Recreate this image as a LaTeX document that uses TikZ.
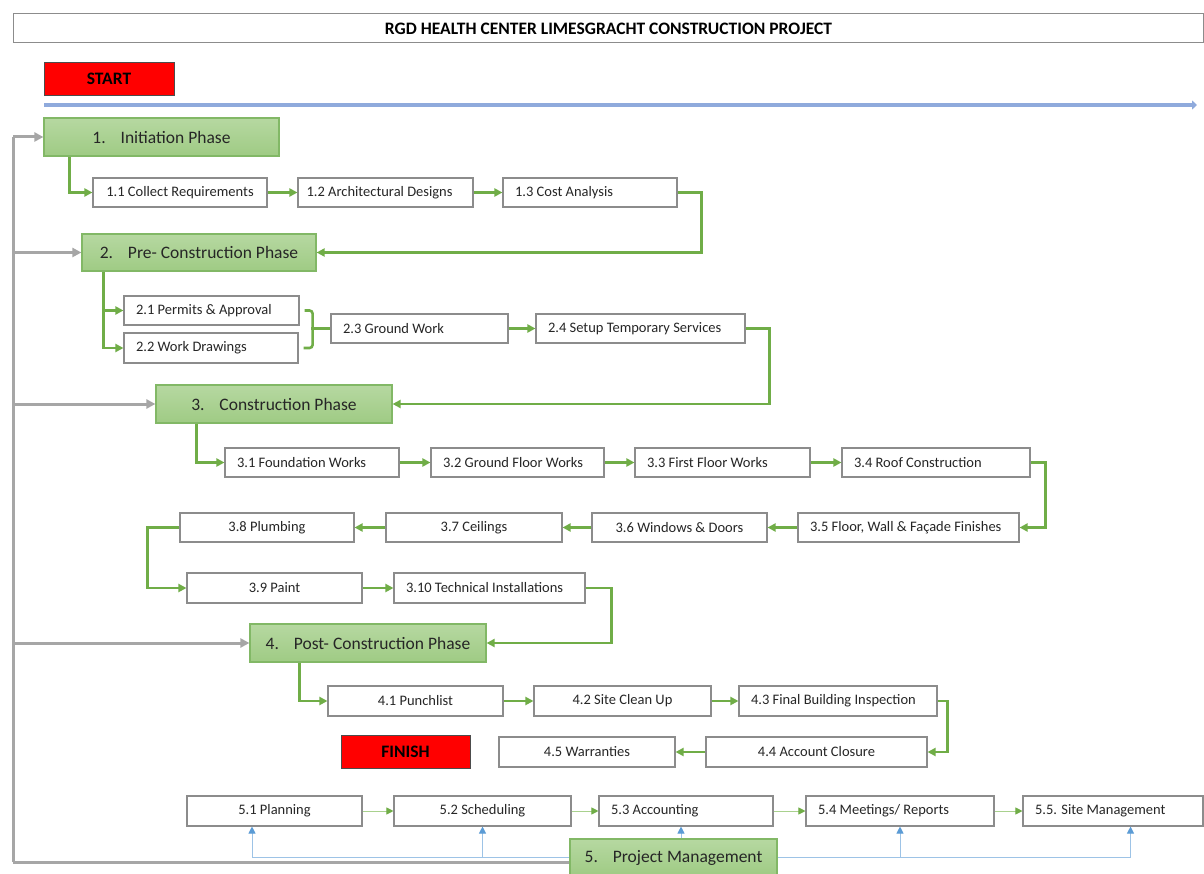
\documentclass[tikz,border=0pt]{standalone}
\usepackage{fontspec}
\setmainfont{Carlito}
\usetikzlibrary{arrows.meta}

\definecolor{flowgreen}{HTML}{70AD47}
\definecolor{lightgreen}{HTML}{A9D18E}
\definecolor{phtop}{HTML}{B6D8A1}
\definecolor{phbot}{HTML}{9FCB84}
\definecolor{phedge}{HTML}{82B866}
\definecolor{boxgray}{HTML}{8C8C8C}
\definecolor{busgray}{HTML}{A6A6A6}
\definecolor{timeblue}{HTML}{8FAADC}
\definecolor{pmline}{HTML}{9DC3E6}
\definecolor{pmtip}{HTML}{5B9BD5}
\definecolor{inktext}{HTML}{262626}
\definecolor{alarmred}{HTML}{FF0000}

\tikzset{
  box/.style={draw=boxgray, line width=1.1pt, fill=white, minimum height=29pt,
    inner sep=0pt, text=inktext, font=\fontsize{14.5}{17}\selectfont},
  cbox/.style={box, minimum width=#1},
  lbox/.style={box, inner xsep=12pt, text width=#1, align=flush left},
  phase/.style={draw=phedge, line width=1.2pt, top color=phtop, bottom color=phbot,
    minimum height=38pt, minimum width=#1, inner sep=0pt, text=inktext,
    font=\fontsize{17.5}{20}\selectfont},
  marker/.style={draw=black!70, line width=0.8pt, fill=alarmred, minimum height=33pt,
    minimum width=#1, inner sep=0pt, font=\bfseries\fontsize{17.5}{20}\selectfont},
  flow/.style={draw=flowgreen, line width=2.6pt,
    -{Triangle[length=8pt,width=8pt]}},
  brace/.style={draw=flowgreen, line width=2.6pt, rounded corners=3pt},
  thinflow/.style={draw=lightgreen, line width=1pt,
    -{Triangle[length=7pt,width=7pt,color=flowgreen]}},
  bus/.style={draw=busgray, line width=3pt},
  busarrow/.style={bus, -{Triangle[length=9pt,width=9pt]}},
  pm/.style={draw=pmline, line width=1pt,
    -{Triangle[length=7pt,width=7pt,color=pmtip]}},
  timeline/.style={draw=timeblue, line width=4pt,
    -{Triangle[length=5pt,width=9pt]}}
}

\newcommand{\phasetitle}[2]{#1\hspace{0.85em}#2}

\begin{document}
\begin{tikzpicture}[x=1pt, y=-1pt]
\useasboundingbox[fill=white] (0,0) rectangle (1204,874);

% title bar
\node[draw=boxgray, line width=1pt, minimum width=1190pt, minimum height=29pt,
  inner sep=0pt, font=\bfseries\fontsize{17.5}{20}\selectfont, text=black]
  (title) at (608.5,28.5) {RGD HEALTH CENTER LIMESGRACHT CONSTRUCTION PROJECT};

% start marker and time axis
\node[marker=130pt] (start) at (109,78.5) {START};
\coordinate (axis0) at (44,105);
\coordinate (axis1) at (1197,105);
\draw[timeline] (axis0) -- (axis1);

% phases
\node[phase=235pt] (p1) at (161.5,137) {\phasetitle{1.}{Initiation Phase}};
\node[phase=234pt, minimum height=37pt] (p2) at (199,252.5) {\phasetitle{2.}{Pre- Construction Phase}};
\node[phase=236pt] (p3) at (274,404) {\phasetitle{3.}{Construction Phase}};
\node[phase=236pt] (p4) at (368,643) {\phasetitle{4.}{Post- Construction Phase}};

% phase 1 tasks
\node[cbox=174pt] (a11) at (180,192.5) {1.1 Collect Requirements};
\node[lbox=158pt, inner xsep=8.5pt] (a12) at (385.5,192.5) {1.2 Architectural Designs};
\node[lbox=150pt] (a13) at (590,192.5) {1.3 Cost Analysis};

% phase 2 tasks
\node[lbox=151pt] (b21) at (211.5,310.5) {2.1 Permits \& Approval};
\node[lbox=150pt, minimum height=30pt] (b22) at (211,348) {2.2 Work Drawings};
\node[lbox=153pt] (b23) at (419.5,328.5) {2.3 Ground Work};
\node[lbox=185pt] (b24) at (640.5,328.5) {2.4 Setup Temporary Services};

% phase 3 tasks
\node[lbox=150pt] (c31) at (312,462.5) {3.1 Foundation Works};
\node[lbox=149pt] (c32) at (517.5,462.5) {3.2 Ground Floor Works};
\node[lbox=151pt] (c33) at (722.5,462.5) {3.3 First Floor Works};
\node[lbox=164pt] (c34) at (936,462.5) {3.4 Roof Construction};
\node[lbox=197pt] (c35) at (908.5,527.5) {3.5 Floor, Wall \& Façade Finishes};
\node[cbox=175pt] (c36) at (679.5,527.5) {3.6 Windows \& Doors};
\node[cbox=176pt] (c37) at (474,527.5) {3.7 Ceilings};
\node[cbox=174pt] (c38) at (267,527.5) {3.8 Plumbing};
\node[cbox=175pt, minimum height=30pt] (c39) at (274.5,588) {3.9 Paint};
\node[lbox=167pt, minimum height=30pt] (c310) at (489.5,588) {3.10 Technical Installations};

% phase 4 tasks
\node[cbox=175pt, minimum height=30pt] (d41) at (415.5,701) {4.1 Punchlist};
\node[cbox=177pt, minimum height=30pt] (d42) at (622.5,701) {4.2 Site Clean Up};
\node[lbox=174pt, minimum height=30pt] (d43) at (838,701) {4.3 Final Building Inspection};
\node[cbox=221pt, minimum height=30pt] (d44) at (816.5,752) {4.4 Account Closure};
\node[cbox=176pt, minimum height=30pt] (d45) at (587,752) {4.5 Warranties};
\node[marker=129pt] (finish) at (405.5,751.5) {FINISH};

% project management tasks
\node[cbox=175pt, minimum height=30pt] (e51) at (274.5,811) {5.1 Planning};
\node[cbox=177pt, minimum height=30pt] (e52) at (482.5,811) {5.2 Scheduling};
\node[lbox=150pt, minimum height=30pt] (e53) at (686,811) {5.3 Accounting};
\node[lbox=164pt, minimum height=30pt] (e54) at (900,811) {5.4 Meetings/ Reports};
\node[lbox=156pt, minimum height=30pt] (e55) at (1113,811) {5.5. Site Management};

% left-hand bus feeding every phase
\coordinate (busbottom) at (13,862);
\coordinate (bustop) at (13,137);
\draw[bus] (busbottom) -- (bustop);
\draw[busarrow] (bustop) -- (p1.west);
\draw[busarrow] (bustop |- p2.west) -- (p2.west);
\draw[busarrow] (bustop |- p3.west) -- (p3.west);
\draw[busarrow] (bustop |- p4.west) -- (p4.west);

% project management connectors (drawn before the phase box)
\draw[pm] (e52.south |- 0,857) -| ([xshift=-22.5pt]e51.south);
\draw[pm] (e53.south |- 0,857) -| (e52.south);
\draw[pm] (e53.south |- 0,857) -| (e54.south);
\draw[pm] (e54.south |- 0,857) -| ([xshift=17.5pt]e55.south);

\node[phase=207pt, minimum height=37pt] (p5) at (673.5,857.5) {\phasetitle{5.}{Project Management}};
\draw[bus] ([yshift=-4.5pt]p5.west) -- (busbottom);
\draw[pm] ([xshift=7.5pt]p5.north) -- ([xshift=-5pt]e53.south);

% phase 1 flow
\draw[flow] ([xshift=26pt]p1.south west) |- (a11.west);
\draw[flow] (a11) -- (a12);
\draw[flow] (a12) -- (a13);
\draw[flow] (a13.east) -- ++(24,0) |- (p2.east);

% phase 2 flow
\draw[flow] ([xshift=22pt]p2.south west) |- (b21.west);
\draw[flow] ([xshift=22pt]p2.south west) |- (b22.west);
\draw[brace] ([xshift=5pt]b21.east) -- ++(8,0) |- ([xshift=5pt]b22.east);
\draw[brace] (b23.west) -- ++(-19,0);
\draw[flow] (b23) -- (b24);
\draw[flow] (b24.east) -- ++(24,0) |- (p3.east);

% phase 3 flow
\draw[flow] ([xshift=41pt]p3.south west) |- (c31.west);
\draw[flow] (c31) -- (c32);
\draw[flow] (c32) -- (c33);
\draw[flow] (c33) -- (c34);
\draw[flow] (c34.east) -- ++(15,0) |- (c35.east);
\draw[flow] (c35) -- (c36);
\draw[flow] (c36) -- (c37);
\draw[flow] (c37) -- (c38);
\draw[flow] (c38.west) -- ++(-32,0) |- (c39.west);
\draw[flow] (c39) -- (c310);
\draw[flow] (c310.east) -- ++(26,0) |- (p4.east);

% phase 4 flow
\draw[flow] ([xshift=50pt]p4.south west) |- (d41.west);
\draw[flow] (d41) -- (d42);
\draw[flow] (d42) -- (d43);
\draw[flow] (d43.east) -- ++(10,0) |- (d44.east);
\draw[flow] (d44) -- (d45);

% project management sequence
\draw[thinflow] (e51) -- (e52);
\draw[thinflow] (e52) -- (e53);
\draw[thinflow] (e53) -- (e54);
\draw[thinflow] (e54) -- (e55);
\end{tikzpicture}
\end{document}
